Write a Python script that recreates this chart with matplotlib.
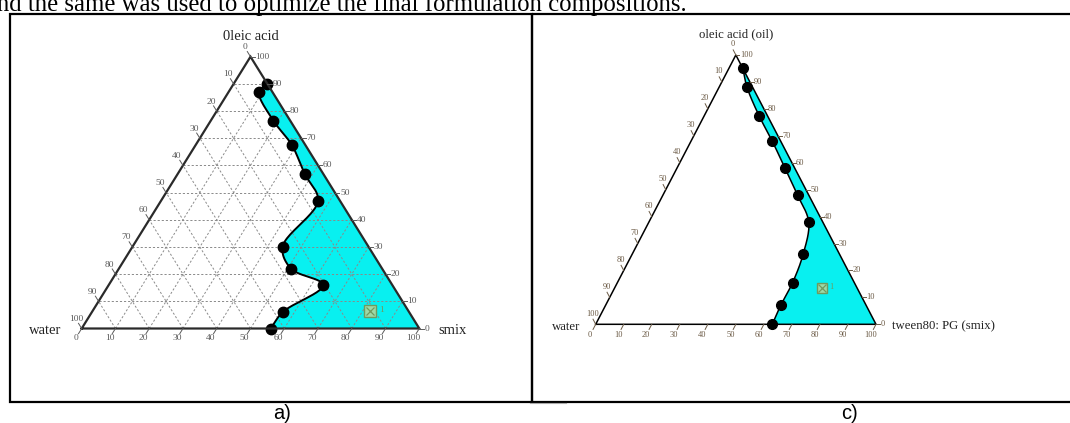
import numpy as np
import matplotlib
matplotlib.use("Agg")
import matplotlib.pyplot as plt
from matplotlib.patches import Rectangle, Polygon

# ---- data: boundary points of the microemulsion region (percent w/w) ----
# panel a) oleic acid / smix / water
a_oil = [90, 87, 76.5, 67.5, 57, 47, 30, 22, 16, 6, 0]
a_smix = [10, 9, 18.5, 28.5, 37.5, 46.5, 44.5, 51, 63.5, 56.5, 56]
a_form_oil, a_form_smix = 6.5, 82

# panel c) oleic acid (oil) / tween80:PG (smix) / water
c_oil = [95, 88, 77.5, 68, 58, 48, 38, 26, 15.5, 7, 0]
c_smix = [5, 10, 19.5, 29, 38.5, 48, 57, 61, 62.5, 62.5, 63]
c_form_oil, c_form_smix = 13.5, 74

tick_values = list(range(0, 101, 10))
tick_labels = [str(v) for v in tick_values]

CYAN = "#08f0f0"
SERIF = "Liberation Serif"

W_PX, H_PX = 1070, 423
fig = plt.figure(figsize=(W_PX / 100, H_PX / 100), dpi=100)

# background layer in pixel units for frames and captions
bg = fig.add_axes([0, 0, 1, 1])
bg.set_xlim(0, W_PX)
bg.set_ylim(H_PX, 0)
bg.axis("off")

bg.add_patch(Rectangle((10.3, 14.5), 521.5, 387.2, fill=False, lw=1.6, ec="black"))
bg.add_patch(Rectangle((531.8, 14.5), 560, 387.2, fill=False, lw=1.6, ec="black"))
bg.plot([530, 566], [403.2, 403.2], color="#aaaaaa", lw=0.8)

fig.text(-0.003, (H_PX - 11.5) / H_PX,
         "nd the same was used to optimize the final formulation compositions.",
         family=SERIF, fontsize=17.8, va="baseline", ha="left", color="black")
bg.text(273, 419, "a)", family="Liberation Sans", fontsize=14.5, va="baseline", ha="left")
bg.text(841, 419, "c)", family="Liberation Sans", fontsize=14.5, va="baseline", ha="left")


def to_xy(oil, smix):
    oil = np.asarray(oil, dtype=float)
    smix = np.asarray(smix, dtype=float)
    return smix + oil / 2.0, oil


def catmull_rom(x, y, sx, sy, n=24):
    P = np.column_stack([np.asarray(x) * sx, np.asarray(y) * sy])
    P = np.vstack([2 * P[0] - P[1], P, 2 * P[-1] - P[-2]])
    pts = []
    for i in range(1, len(P) - 2):
        p0, p1, p2, p3 = P[i - 1], P[i], P[i + 1], P[i + 2]
        t0 = 0.0
        t1 = t0 + max(np.linalg.norm(p1 - p0), 1e-6) ** 0.5
        t2 = t1 + max(np.linalg.norm(p2 - p1), 1e-6) ** 0.5
        t3 = t2 + max(np.linalg.norm(p3 - p2), 1e-6) ** 0.5
        t = np.linspace(t1, t2, n, endpoint=False)[:, None]
        A1 = (t1 - t) / (t1 - t0) * p0 + (t - t0) / (t1 - t0) * p1
        A2 = (t2 - t) / (t2 - t1) * p1 + (t - t1) / (t2 - t1) * p2
        A3 = (t3 - t) / (t3 - t2) * p2 + (t - t2) / (t3 - t2) * p3
        B1 = (t2 - t) / (t2 - t0) * A1 + (t - t0) / (t2 - t0) * A2
        B2 = (t3 - t) / (t3 - t1) * A2 + (t - t1) / (t3 - t1) * A3
        C = (t2 - t) / (t2 - t1) * B1 + (t - t1) / (t2 - t1) * B2
        pts.append(C)
    pts.append(P[-2][None, :])
    pts = np.vstack(pts)
    return pts[:, 0] / sx, pts[:, 1] / sy


def ternary_panel(box, oil, smix, form, names, style):
    left, top, right, bottom = box
    w_px, h_px = right - left, bottom - top
    ax = fig.add_axes([left / W_PX, (H_PX - bottom) / H_PX, w_px / W_PX, h_px / H_PX])
    ax.set_xlim(0, 100)
    ax.set_ylim(0, 100)
    ax.axis("off")
    sx, sy = w_px / 100.0, h_px / 100.0

    # grid
    if style["grid"]:
        for v in tick_values[1:-1]:
            kw = dict(color="#8a8a8a", lw=0.7, ls=(0, (2.2, 2.0)), zorder=3, clip_on=False)
            ax.plot([v / 2, 100 - v / 2], [v, v], **kw)
            ax.plot([v, v + (100 - v) / 2], [0, 100 - v], **kw)
            ax.plot([100 - v, (100 - v) / 2], [0, 100 - v], **kw)

    # region and boundary curve
    x, y = to_xy(oil, smix)
    cx, cy = catmull_rom(x, y, sx, sy)
    poly = np.column_stack([np.r_[cx, 100.0], np.r_[cy, 0.0]])
    ax.add_patch(Polygon(poly, closed=True, fc=CYAN, ec="none", zorder=1))
    ax.plot(cx, cy, color="black", lw=style["curve_lw"], zorder=4, clip_on=False)
    ax.plot(x, y, "o", color="black", ms=style["ms"], zorder=5, clip_on=False)

    # triangle outline
    ax.plot([0, 100, 50, 0], [0, 0, 100, 0], color=style["edge"], lw=style["edge_lw"],
            zorder=6, clip_on=False, solid_joinstyle="miter")

    # ticks and tick labels
    tk = dict(color=style["tick_color"], lw=0.7, zorder=6, clip_on=False)
    tl = dict(family=SERIF, fontsize=style["tick_fs"], color=style["tick_color"])
    k1, k2 = style["tick_len"], style["label_off"]
    for v, lab in zip(tick_values, tick_labels):
        # bottom axis (smix)
        bx, by = v, 0.0
        ax.plot([bx, bx - 0.5 * k1], [by, by - k1], **tk)
        ax.text(bx - 0.5 * k2, by - k2, lab, ha="center", va="center", **tl)
        # right axis (oil)
        rx, ry = 100 - v / 2, v
        ax.plot([rx, rx + style["rtick"]], [ry, ry], **tk)
        ax.text(rx + style["rtick"] + 0.2, ry, lab, ha="left", va="center", **tl)
        # left axis (water)
        lx, ly = (100 - v) / 2, 100 - v
        ax.plot([lx, lx - 0.5 * k1], [ly, ly + k1], **tk)
        ax.text(lx - 0.5 * k2 + style["ldx"], ly + k2, lab, ha="center", va="center", **tl)

    # selected formulation
    fx, fy = to_xy(form[0], form[1])
    ax.plot(fx, fy, "s", ms=style["fms"], mfc="#9ed9a6", mec="#6f9a5f", mew=1.0,
            zorder=7, clip_on=False)
    ax.plot(fx, fy, "x", ms=style["fms"] * 0.8, mec="#6f9a5f", mew=0.9, zorder=8, clip_on=False)
    ax.text(fx + style["fms"] * 0.35, fy + 0.3, "1", family=SERIF, fontsize=style["tick_fs"],
            color="#6f9a5f", ha="left", va="center", zorder=8)

    # vertex names
    top_name, left_name, right_name = names
    nfs = style["name_fs"]
    ax.text(50, 100 + style["top_off"], top_name, family=SERIF, fontsize=nfs,
            ha="center", va="baseline", color="#222222")
    ax.text(style["left_x"], style["base_y"], left_name, family=SERIF, fontsize=nfs,
            ha="right", va="baseline", color="#222222")
    ax.text(style["right_x"], style["base_y"], right_name, family=SERIF, fontsize=nfs,
            ha="left", va="baseline", color="#222222")
    return ax


style_a = dict(grid=True, curve_lw=1.4, ms=7.5, edge="#2a2a2a", edge_lw=1.6,
               tick_color="#5a5a5a", tick_fs=6.8, tick_len=1.9, label_off=3.5,
               rtick=1.3, ldx=0.0, fms=8.0, name_fs=10.5, top_off=6.3,
               left_x=-5.9, right_x=105.6, base_y=-1.9)
style_c = dict(grid=False, curve_lw=1.1, ms=7.0, edge="black", edge_lw=1.1,
               tick_color="#6b5a45", tick_fs=6.0, tick_len=1.9, label_off=3.9,
               rtick=1.3, ldx=0.8, fms=7.0, name_fs=9.2, top_off=6.5,
               left_x=-5.6, right_x=105.8, base_y=-2.0)

ternary_panel((81.7, 56.7, 419.3, 328.5), a_oil, a_smix, (a_form_oil, a_form_smix),
              ("0leic acid", "water", "smix"), style_a)
ternary_panel((595.7, 55.0, 876.0, 324.3), c_oil, c_smix, (c_form_oil, c_form_smix),
              ("oleic acid (oil)", "water", "tween80: PG (smix)"), style_c)

fig.savefig("out.png", dpi=100)
